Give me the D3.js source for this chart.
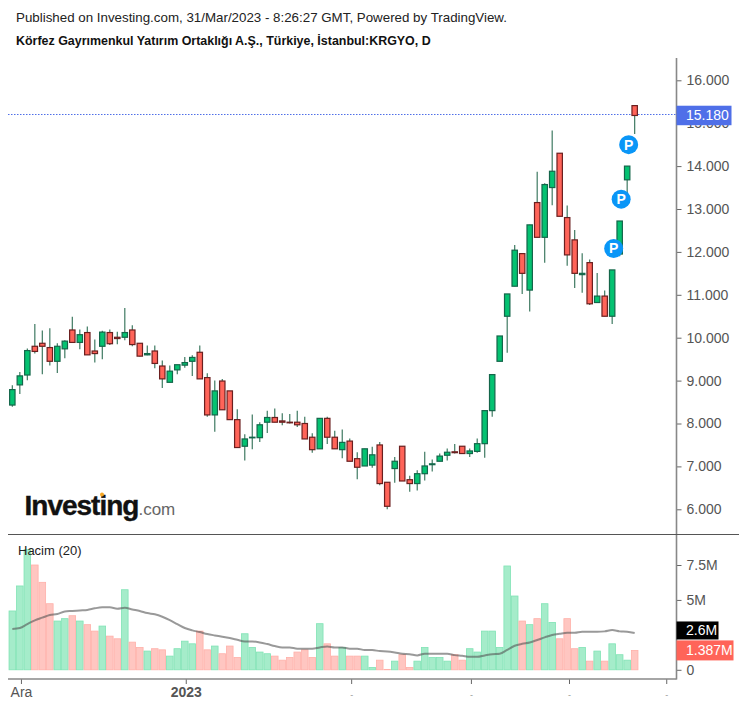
<!DOCTYPE html>
<html>
<head>
<meta charset="utf-8">
<script src="https://cdnjs.cloudflare.com/ajax/libs/d3/7.8.5/d3.min.js"></script>
<style>
    html, body { margin: 0; padding: 0; background: #fff; }
    svg { display: block; font-family: "Liberation Sans", Arial, sans-serif; }
    .axis text { fill: #555; font-size: 14px; font-family: "Liberation Sans", Arial, sans-serif; }
    .axis line { stroke: #666; }
</style>
</head>
<body>
<script>
const opens = [8.43, 8.90, 9.13, 9.80, 9.87, 9.77, 9.45, 9.74, 10.18, 9.89, 10.12, 9.69, 9.80, 10.12, 10.01, 10.01, 10.18, 9.87, 9.60, 9.69, 9.34, 8.96, 9.25, 9.36, 9.45, 9.66, 9.07, 8.20, 8.99, 8.76, 8.09, 7.47,
    7.67, 7.67, 8.03, 8.14, 8.06, 8.03, 8.03, 8.00, 7.68, 7.41, 8.12, 7.68, 7.39, 7.59, 7.18, 7.01, 7.03, 7.50, 6.63, 6.95, 7.47, 6.69, 6.60, 6.83, 7.04, 7.12, 7.26, 7.34, 7.47, 7.30, 7.35, 7.53,
    8.30, 9.45, 10.50, 11.20, 11.96, 11.11, 13.15, 12.34, 13.50, 14.30, 12.80, 12.28, 11.47, 11.75, 10.82, 10.97, 10.50, 11.95, 13.68, 15.41];
const highs = [8.89, 9.20, 9.75, 10.32, 10.17, 10.22, 9.87, 9.94, 10.49, 10.19, 10.26, 9.96, 10.16, 10.19, 10.14, 10.69, 10.29, 9.87, 9.82, 9.82, 9.47, 9.35, 9.37, 9.55, 9.59, 9.82, 9.17, 9.00, 9.04, 8.76, 8.33, 7.75,
    8.21, 8.03, 8.30, 8.35, 8.24, 8.22, 8.30, 8.16, 7.77, 8.12, 8.16, 7.83, 7.86, 7.65, 7.33, 7.41, 7.46, 7.57, 6.63, 7.22, 7.47, 6.78, 6.91, 7.34, 7.16, 7.30, 7.42, 7.52, 7.47, 7.42, 7.65, 8.30,
    9.14, 10.04, 11.02, 12.16, 11.96, 12.63, 13.87, 13.60, 14.83, 14.30, 13.08, 12.51, 11.97, 11.82, 11.51, 11.10, 11.58, 12.72, 14.00, 15.41];
const lows = [8.39, 8.69, 9.01, 9.63, 9.15, 9.35, 9.18, 9.52, 9.89, 9.73, 9.60, 9.42, 9.50, 9.83, 9.85, 9.94, 9.80, 9.56, 9.59, 9.29, 8.83, 8.96, 9.15, 9.30, 9.11, 9.04, 8.16, 7.81, 8.32, 8.09, 7.44, 7.14,
    7.40, 7.57, 7.78, 8.03, 7.96, 8.00, 7.92, 7.64, 7.32, 7.41, 7.52, 7.41, 7.19, 7.12, 6.70, 7.01, 6.97, 6.56, 6.00, 6.62, 6.66, 6.41, 6.44, 6.67, 6.88, 7.12, 7.14, 7.30, 7.30, 7.22, 7.32, 7.20,
    8.16, 9.45, 9.65, 11.20, 11.02, 10.61, 12.34, 11.75, 13.09, 12.83, 11.68, 11.16, 11.05, 10.76, 10.82, 10.50, 10.32, 11.90, 13.36, 14.75];
const closes = [8.79, 9.11, 9.70, 9.68, 9.80, 9.45, 9.80, 9.92, 9.89, 10.07, 9.60, 9.63, 10.13, 9.86, 9.98, 10.12, 9.84, 9.57, 9.63, 9.40, 9.04, 9.22, 9.37, 9.42, 9.54, 9.04, 8.20, 8.76, 8.32, 8.09, 7.44, 7.64,
    7.68, 7.97, 8.14, 8.03, 8.03, 8.02, 7.97, 7.64, 7.39, 8.12, 7.68, 7.41, 7.56, 7.12, 6.98, 7.41, 7.27, 6.60, 6.07, 7.12, 6.66, 6.60, 6.83, 7.01, 7.06, 7.24, 7.33, 7.32, 7.30, 7.36, 7.53, 8.30,
    9.14, 10.04, 11.02, 12.04, 11.50, 12.63, 12.34, 13.57, 13.88, 12.83, 11.93, 11.50, 11.50, 10.79, 10.97, 10.50, 11.58, 12.72, 14.00, 15.18];

// hacim, milyon
const volumes = [4.21, 6.00, 8.60, 7.50, 6.26, 4.73, 3.49, 3.66, 3.87, 3.49, 3.23, 2.77, 3.13, 2.41, 2.22, 5.73, 1.98, 1.60, 1.34, 1.51, 1.43, 0.98, 1.51, 2.05, 1.86, 2.77, 1.43, 1.70, 1.15, 1.70, 0.88, 2.58,
    1.60, 1.27, 1.15, 0.98, 0.69, 0.88, 1.27, 1.43, 0.88, 3.30, 1.86, 0.98, 1.60, 0.98, 0.98, 0.98, 0.17, 0.69, 0.03, 0.62, 1.08, 0.17, 0.62, 1.60, 0.88, 0.88, 0.62, 1.08, 0.69, 1.51, 1.27, 2.77,
    2.77, 1.60, 7.43, 5.28, 3.49, 3.23, 3.66, 4.73, 3.39, 2.22, 3.66, 1.51, 1.60, 0.62, 1.34, 0.62, 1.86, 1.08, 0.69, 1.387];
const volumeMa = [2.92, 2.99, 3.27, 3.54, 3.73, 3.92, 3.99, 4.18, 4.21, 4.25, 4.28, 4.40, 4.47, 4.47, 4.37, 4.44, 4.32, 4.21, 4.06, 3.97, 3.80, 3.56, 3.27, 2.99, 2.82, 2.70, 2.56, 2.46, 2.37, 2.27, 2.15, 2.03,
    2.03, 1.96, 1.84, 1.70, 1.60, 1.60, 1.51, 1.51, 1.51, 1.60, 1.67, 1.60, 1.60, 1.51, 1.51, 1.41, 1.41, 1.34, 1.31, 1.24, 1.15, 1.12, 1.03, 1.15, 1.15, 1.15, 1.15, 1.05, 1.00, 0.93, 0.93, 1.03,
    1.12, 1.15, 1.43, 1.72, 1.86, 1.96, 2.13, 2.32, 2.49, 2.58, 2.65, 2.65, 2.72, 2.72, 2.72, 2.75, 2.84, 2.75, 2.72, 2.63];

const priceTicks = [6, 7, 8, 9, 10, 11, 12, 13, 14, 15, 16];
const volumeTicks = [0, 5, 7.5];
const dateTicks = [1.15, 23.13, 45.19, 61.16, 74.24, 87.21];
const dateLabels = ['Ara', '2023', '-', '-', '-', '-'];
const pivotIndex = [80.2, 81.2, 82.2];
const pivotPrice = [12.08, 13.23, 14.5];
const lastPrice = 15.18;
const lastVolume = 1.387;
const lastMa = 2.6;

const width = 747, height = 707;
const axisX = 676.5, bottomY = 679, splitY = 534.5;
const green = '#04c271', red = '#ff6459';

const svg = d3.select('body').append('svg')
    .attr('width', width)
    .attr('height', height);

const x = d3.scaleLinear().domain([0, 83]).range([12.33, 634.67]);
const y = d3.scaleLinear().domain([6, 16]).range([509.3, 80.3]);
const yVol = d3.scaleLinear().domain([0, 7.5]).range([669.8, 565]);

// basliklar
svg.append('text')
    .attr('x', 16).attr('y', 21.5)
    .style('font-size', '13.33px').style('fill', '#222')
    .text('Published on Investing.com, 31/Mar/2023 - 8:26:27 GMT, Powered by TradingView.');
svg.append('text')
    .attr('x', 16).attr('y', 44.5)
    .style('font-size', '12.45px').style('font-weight', 'bold').style('fill', '#111')
    .text('Körfez Gayrımenkul Yatırım Ortaklığı A.Ş., Türkiye, İstanbul:KRGYO, D');

// logo
const logo = svg.append('text').attr('x', 24.5).attr('y', 515);
logo.append('tspan')
    .style('font-size', '28px').style('font-weight', 'bold').style('letter-spacing', '-1px')
    .style('fill', '#111').style('stroke', '#111').style('stroke-width', 0.4)
    .text('Investing');
logo.append('tspan')
    .style('font-size', '17px').style('fill', '#666')
    .text('.com');
svg.append('circle').attr('cx', 102).attr('cy', 494.5).attr('r', 2).attr('fill', '#f5a623');

// hacim
svg.append('g').selectAll('rect')
    .data(volumes)
    .enter().append('rect')
    .attr('x', (d, i) => x(i) - 3.3)
    .attr('width', 6.6)
    .attr('y', d => yVol(d))
    .attr('height', d => yVol(0) - yVol(d))
    .attr('fill', (d, i) => closes[i] >= opens[i] ? '#a5ecca' : '#ffc6c1')
    .attr('stroke', (d, i) => closes[i] >= opens[i] ? '#80e3b5' : '#ffb0a9')
    .attr('stroke-width', 0.8);

const maLine = d3.line().x((d, i) => x(i)).y(d => yVol(d)).curve(d3.curveMonotoneX);
svg.append('path')
    .datum(volumeMa)
    .attr('d', maLine)
    .attr('fill', 'none')
    .attr('stroke', '#555')
    .attr('stroke-opacity', 0.6)
    .attr('stroke-width', 2);

svg.append('text')
    .attr('x', 18).attr('y', 555)
    .style('font-size', '13px').style('fill', '#222')
    .text('Hacim (20)');

// son fiyat cizgisi
svg.append('line')
    .attr('x1', 8).attr('x2', axisX)
    .attr('y1', Math.floor(y(lastPrice)) - 0.5).attr('y2', Math.floor(y(lastPrice)) - 0.5)
    .attr('stroke', '#4f6fe8')
    .attr('stroke-dasharray', '1.5 1.5');

// mumlar
const candles = svg.append('g').selectAll('g')
    .data(opens)
    .enter().append('g');

candles.append('line')
    .attr('x1', (d, i) => x(i)).attr('x2', (d, i) => x(i))
    .attr('y1', (d, i) => y(highs[i]))
    .attr('y2', (d, i) => y(lows[i]))
    .attr('stroke', '#3f7a62')
    .attr('stroke-width', 1.2);

candles.append('rect')
    .attr('x', (d, i) => x(i) - 2.7)
    .attr('width', 5.4)
    .attr('y', (d, i) => y(Math.max(opens[i], closes[i])))
    .attr('height', (d, i) => Math.max(0.6, Math.abs(y(opens[i]) - y(closes[i]))))
    .attr('fill', (d, i) => closes[i] >= opens[i] ? green : red)
    .attr('stroke', (d, i) => closes[i] >= opens[i] ? '#14664a' : '#6b1f1f')
    .attr('stroke-width', 1.2);

// P isaretleri
const pivots = svg.append('g').selectAll('g')
    .data(pivotIndex)
    .enter().append('g')
    .attr('transform', (d, i) => `translate(${x(d)},${y(pivotPrice[i])})`);
pivots.append('circle').attr('r', 9.5).attr('fill', '#0a96f7');
pivots.append('text')
    .attr('text-anchor', 'middle').attr('y', 5)
    .style('font-size', '14px').style('font-weight', 'bold').style('fill', '#fff')
    .text('P');

// eksenler
const priceAxis = d3.axisRight(y)
    .tickValues(priceTicks)
    .tickSize(5).tickPadding(5)
    .tickFormat(d3.format('.3f'));
svg.append('g').attr('class', 'axis')
    .attr('transform', `translate(${axisX},0)`)
    .call(priceAxis)
    .call(g => g.select('.domain').remove());

const volumeAxis = d3.axisRight(yVol)
    .tickValues(volumeTicks)
    .tickSize(5).tickPadding(5)
    .tickFormat(d => d === 0 ? '0' : d + 'M');
svg.append('g').attr('class', 'axis')
    .attr('transform', `translate(${axisX},0)`)
    .call(volumeAxis)
    .call(g => g.select('.domain').remove());

const dateAxis = d3.axisBottom(x)
    .tickValues(dateTicks)
    .tickSize(5).tickPadding(3)
    .tickFormat((d, i) => dateLabels[i]);
svg.append('g').attr('class', 'axis')
    .attr('transform', `translate(0,${bottomY})`)
    .call(dateAxis)
    .call(g => g.select('.domain').remove())
    .call(g => g.selectAll('text').filter((d, i) => i === 1).style('font-weight', 'bold'))
    .call(g => g.selectAll('text').filter((d, i) => i > 1)
        .attr('y', 13)
        .style('font-size', '9px').style('fill', '#999'));

svg.append('line')
    .attr('x1', axisX).attr('x2', axisX)
    .attr('y1', 58).attr('y2', bottomY + 0.5)
    .attr('stroke', '#888').attr('stroke-width', 1.6);
svg.append('line')
    .attr('x1', 8).attr('x2', axisX)
    .attr('y1', bottomY).attr('y2', bottomY)
    .attr('stroke', '#888').attr('stroke-width', 1.6);
svg.append('line')
    .attr('x1', 8).attr('x2', 739)
    .attr('y1', splitY).attr('y2', splitY)
    .attr('stroke', '#555').attr('stroke-width', 1);

// deger etiketleri
function valueBox(yPos, w, h, fill, label) {
    svg.append('rect')
        .attr('x', axisX).attr('y', yPos - h / 2)
        .attr('width', w).attr('height', h)
        .attr('fill', fill);
    svg.append('text')
        .attr('x', axisX + 9.5).attr('y', yPos + 5)
        .style('font-size', '14px').style('fill', '#fff')
        .text(label);
}

valueBox(y(lastPrice), 55, 19.5, '#4f6fe8', d3.format('.3f')(lastPrice));
valueBox(yVol(lastVolume), 57, 20, '#ff6459', lastVolume + 'M');
valueBox(yVol(lastMa) - 3, 42, 18, '#000', lastMa + 'M');
</script>
</body>
</html>
